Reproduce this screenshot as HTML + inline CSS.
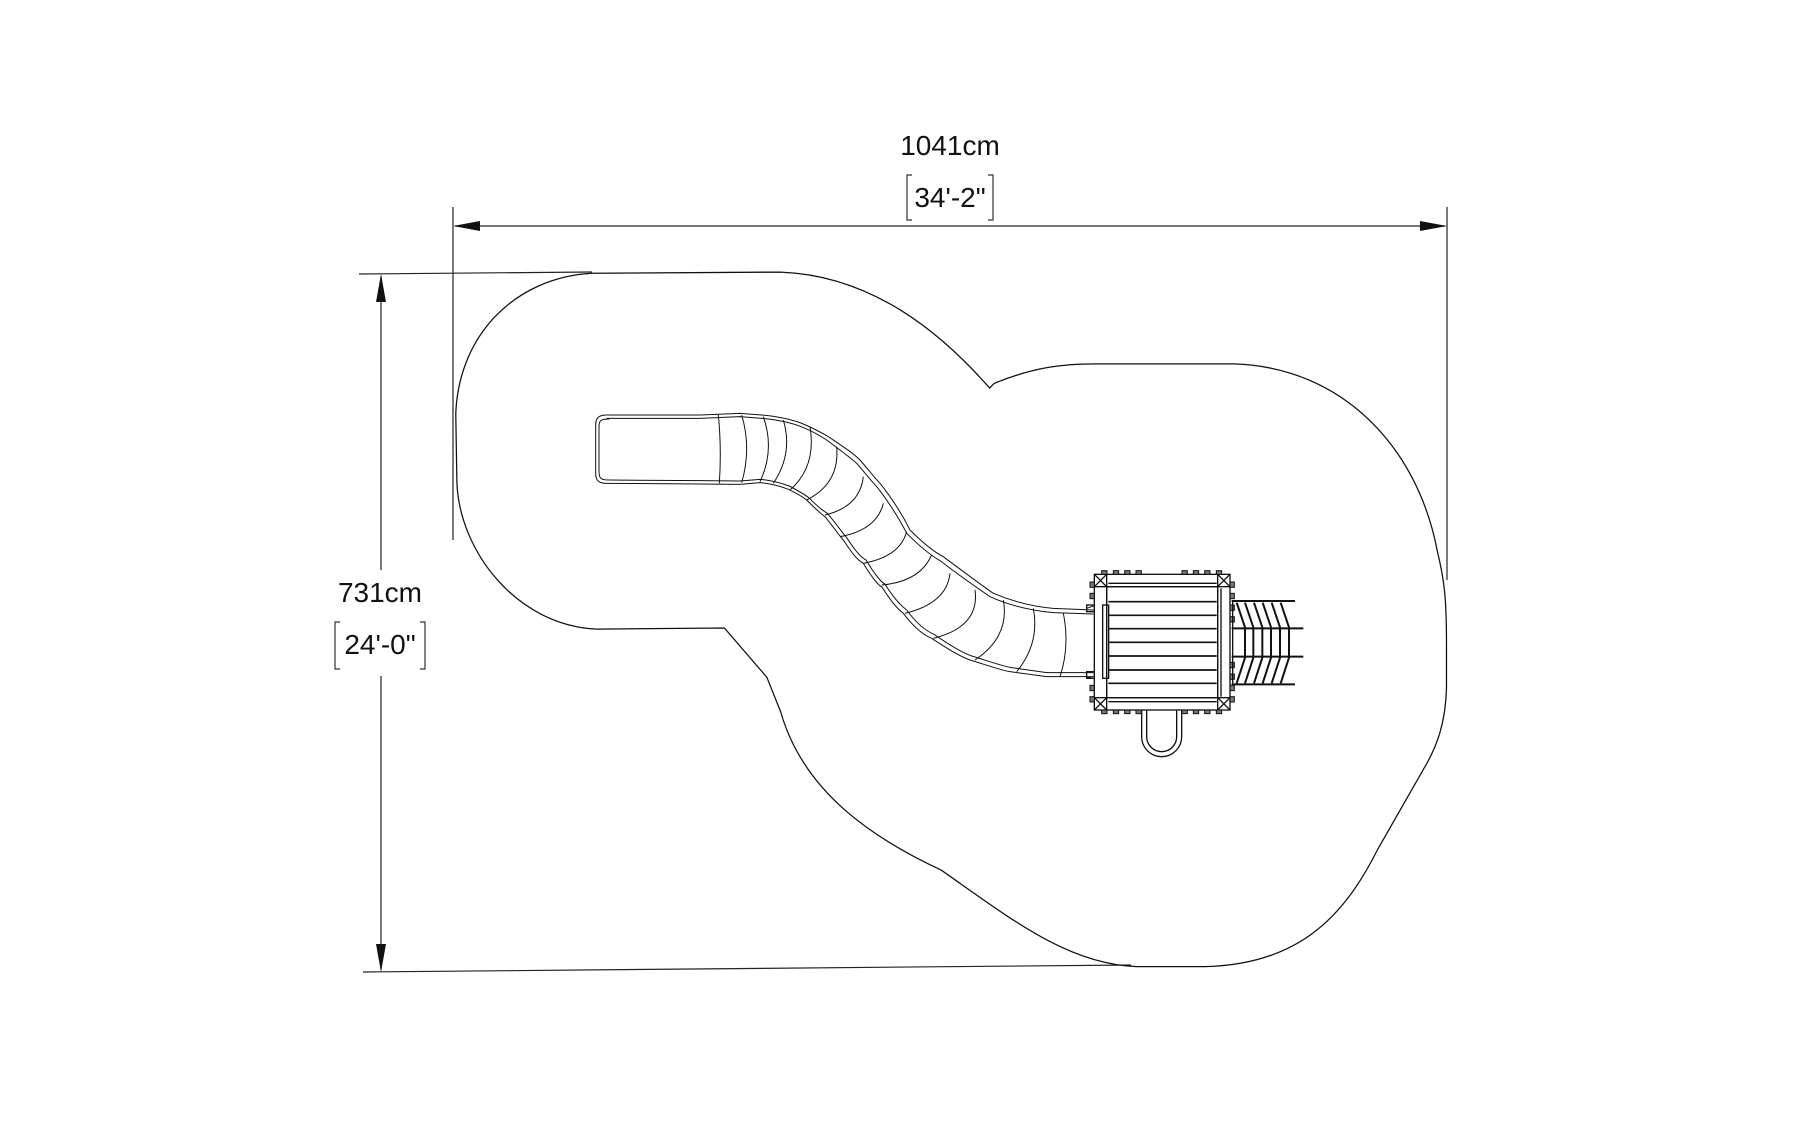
<!DOCTYPE html>
<html><head><meta charset="utf-8"><style>
html,body{margin:0;padding:0;background:#fff}
svg{display:block}
text{font-family:"Liberation Sans",sans-serif;fill:#111}
</style></head><body>
<svg width="1800" height="1124" viewBox="0 0 1800 1124" xmlns="http://www.w3.org/2000/svg">
<rect width="1800" height="1124" fill="#fff"/>
<text x="950" y="155" font-size="28" text-anchor="middle">1041cm</text>
<text x="950" y="207" font-size="28" text-anchor="middle">34'-2"</text>
<path d="M912,175 h-5 v45 h5 M988,175 h5 v45 h-5" fill="none" stroke="#333" stroke-width="1.2"/>
<text x="380" y="602" font-size="28" text-anchor="middle">731cm</text>
<text x="380" y="654" font-size="28" text-anchor="middle">24'-0"</text>
<path d="M340,622 h-5 v47 h5 M420,622 h5 v47 h-5" fill="none" stroke="#333" stroke-width="1.2"/>
<g stroke="#222" stroke-width="1.2" fill="none">
<line x1="453" y1="207" x2="453" y2="540"/>
<line x1="1447" y1="207" x2="1447" y2="580"/>
<line x1="455" y1="226" x2="1445" y2="226"/>
<line x1="359" y1="274" x2="592" y2="272"/>
<line x1="363" y1="972" x2="1131" y2="965"/>
<line x1="381" y1="276" x2="381" y2="570"/>
<line x1="381" y1="676" x2="381" y2="970"/>
</g>
<g fill="#111">
<polygon points="453,226 480,221 480,231"/>
<polygon points="1447,226 1420,221 1420,231"/>
<polygon points="381,274 376,302 386,302"/>
<polygon points="381,972 376,944 386,944"/>
</g>
<g transform="scale(1.148)">
<path d="M515,238 L680,237 C760,240 820,290 862,338 L866,334 C900,320 925,317 955,317 L1075,317 C1170,320 1235,390 1252,480 C1258,505 1260,520 1260,560 L1260,600 C1259,630 1252,650 1240,670 L1200,740 C1170,800 1130,840 1050,842 L990,842 C930,840 880,800 820,758 C760,730 700,690 680,620 L668,590 L631,547 L520,548 C450,545 400,480 398,420 L397,360 C400,290 450,242 515,238 Z" fill="none" stroke="#111" stroke-width="1.1"/>
</g>
<g transform="translate(580,400) scale(0.33333)" fill="none" stroke="#111" stroke-width="1">
<path vector-effect="non-scaling-stroke" d="M80,45 L360,45 L480,40 L545,45 C600,50 640,60 670,72 C700,85 725,98 745,110 C790,140 820,160 840,180 C870,215 890,240 900,250 C940,300 970,350 990,390 C1030,430 1060,455 1090,470 C1150,515 1190,545 1240,580 C1300,605 1360,620 1420,625 L1540,630"/>
<path vector-effect="non-scaling-stroke" d="M80,55 L360,55 L480,50 L545,55 C600,60 640,70 668,82 C700,95 722,108 740,120 C780,150 810,172 830,190 C860,225 880,250 892,262 C930,312 960,360 980,400 C1020,440 1050,465 1080,482 C1140,528 1180,556 1230,590 C1290,617 1355,632 1420,638 L1540,642"/>
<path vector-effect="non-scaling-stroke" d="M80,45 C55,45 47,55 47,75 L47,220 C47,240 55,250 80,250 L360,252 L480,253 L540,248 C570,250 600,258 625,268 C650,280 670,292 680,300 C700,320 720,340 735,350 C760,380 780,410 790,420 C810,450 830,480 850,490 C880,540 900,560 905,560 C930,600 950,625 970,640 C1000,680 1030,705 1055,715 C1100,745 1140,770 1170,780 C1220,795 1260,810 1290,815 L1400,830 L1540,830"/>
<path vector-effect="non-scaling-stroke" d="M88,57 C62,57 57,62 57,80 L57,215 C57,235 62,240 88,240 L360,242 L480,243 L540,238 C570,240 600,248 628,258 C650,270 672,282 685,292 C705,312 725,330 742,340 C768,370 788,400 798,410 C818,440 838,470 858,480 C888,530 908,550 915,552 C938,590 960,615 980,630 C1008,668 1038,693 1062,703 C1105,733 1145,757 1175,768 C1225,783 1265,798 1295,803 L1400,818 L1540,818"/>
<path vector-effect="non-scaling-stroke" d="M415,45 Q425,145 418,250 M485,45 Q515,145 485,248 M550,50 Q585,150 540,245 M610,60 Q640,160 580,250 M690,80 Q710,200 630,270 M770,140 Q780,250 680,300 M850,230 Q840,320 735,345 M910,310 Q890,390 780,410 M980,395 Q960,470 850,490 M1055,465 Q1020,545 905,555 M1110,520 Q1100,610 975,640 M1185,570 Q1200,680 1060,715 M1270,600 Q1290,710 1185,780 M1360,625 Q1380,730 1310,815 M1450,640 Q1470,740 1440,830"/>
<path vector-effect="non-scaling-stroke" d="M1520,625 L1540,618 M1520,830 L1540,836"/>
</g>
<g transform="translate(1050,540) scale(0.33333)" fill="none" stroke="#111">
<g stroke-width="4">
<rect x="133" y="103" width="407" height="407"/>
<rect x="170" y="140" width="333" height="333"/>
<line x1="133" y1="140" x2="540" y2="140"/>
<line x1="133" y1="473" x2="540" y2="473"/>
<line x1="170" y1="103" x2="170" y2="510"/>
<line x1="503" y1="103" x2="503" y2="510"/>
<line x1="175" y1="130" x2="500" y2="130"/>
<line x1="175" y1="485" x2="500" y2="485"/>
<line x1="513" y1="145" x2="513" y2="470"/>
<path d="M133,103 L170,140 M170,103 L133,140 M503,103 L540,140 M540,103 L503,140 M133,473 L170,510 M170,473 L133,510 M503,473 L540,510 M540,473 L503,510"/>
<rect x="158" y="195" width="18" height="220"/>
<rect x="110" y="195" width="23" height="20"/>
<rect x="110" y="395" width="23" height="20"/>
</g>
<g stroke-width="5">
<line x1="175" y1="185" x2="500" y2="185"/>
<line x1="175" y1="226" x2="500" y2="226"/>
<line x1="175" y1="266" x2="500" y2="266"/>
<line x1="175" y1="307" x2="500" y2="307"/>
<line x1="175" y1="348" x2="500" y2="348"/>
<line x1="175" y1="390" x2="500" y2="390"/>
<line x1="175" y1="430" x2="500" y2="430"/>
</g>
<g fill="#777" stroke="#111" stroke-width="3">
<rect x="155" y="92" width="16" height="11"/><rect x="190" y="92" width="16" height="11"/><rect x="224" y="92" width="16" height="11"/><rect x="258" y="92" width="16" height="11"/>
<rect x="396" y="92" width="16" height="11"/><rect x="430" y="92" width="16" height="11"/><rect x="464" y="92" width="16" height="11"/><rect x="499" y="92" width="16" height="11"/>
<rect x="155" y="510" width="16" height="11"/><rect x="190" y="510" width="16" height="11"/><rect x="224" y="510" width="16" height="11"/><rect x="258" y="510" width="16" height="11"/>
<rect x="396" y="510" width="16" height="11"/><rect x="430" y="510" width="16" height="11"/><rect x="464" y="510" width="16" height="11"/><rect x="499" y="510" width="16" height="11"/>
<rect x="120" y="126" width="13" height="16"/><rect x="120" y="160" width="13" height="16"/><rect x="120" y="436" width="13" height="16"/><rect x="120" y="470" width="13" height="16"/>
<rect x="540" y="126" width="13" height="16"/><rect x="540" y="160" width="13" height="16"/><rect x="540" y="195" width="13" height="16"/><rect x="540" y="230" width="13" height="16"/>
<rect x="540" y="367" width="13" height="16"/><rect x="540" y="402" width="13" height="16"/><rect x="540" y="436" width="13" height="16"/><rect x="540" y="470" width="13" height="16"/>
</g>
<g stroke-width="6">
<line x1="545" y1="183" x2="735" y2="183"/>
<line x1="545" y1="265" x2="760" y2="265"/>
<line x1="545" y1="350" x2="760" y2="350"/>
<line x1="545" y1="433" x2="735" y2="433"/>
<path d="M560,188 L585,262 L585,353 L560,430 M585,188 L610,262 L610,353 L585,430 M612,188 L637,262 L637,353 L612,430 M638,188 L663,262 L663,353 L638,430 M665,188 L690,262 L690,353 L665,430 M692,188 L717,262 L717,353 L692,430"/>
</g>
<g stroke-width="4">
<line x1="548" y1="180" x2="548" y2="436"/>
</g>
<g stroke-width="4">
<path d="M275,512 L275,590 A60,60 0 0 0 395,590 L395,512"/>
<path d="M290,512 L290,590 A45,45 0 0 0 380,590 L380,512"/>
</g>
</g>
</svg>
</body></html>
